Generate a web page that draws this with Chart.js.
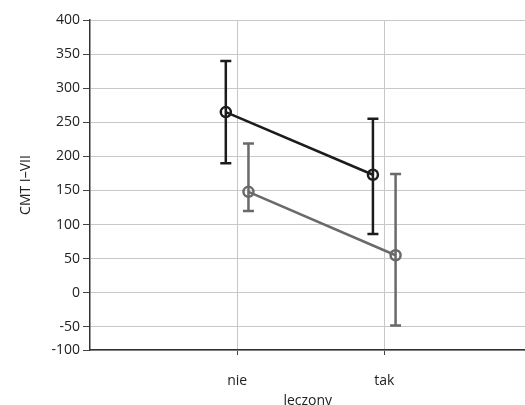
<!DOCTYPE html>
<html>
<head>
<meta charset="utf-8">
<style>
html,body{margin:0;padding:0;background:#fff;overflow:hidden;}
canvas{display:block;}
</style>
<script src="https://cdn.jsdelivr.net/npm/chart.js@4"></script>
</head>
<body>
<canvas id="c" width="533" height="405"></canvas>
<script>
const categories = ['nie', 'tak'];
const meanA = [265, 173];
const lowA = [190, 86];
const highA = [340, 255];
const meanB = [148, 55];
const lowB = [120, -48];
const highB = [219, 174];
const yTickLabels = ['-100', '-50', '0', '50', '100', '150', '200', '250', '300', '350', '400'];
const yTickValues = [-84, -50, 0, 50, 100, 150, 200, 250, 300, 350, 400];

const OFFSET = 0.077;
const colA = '#1c1c1c';
const colB = '#6a6a6a';

function pts(means, lows, highs, shift) {
  return means.map((m, i) => ({ x: i + 1 + shift, y: m, lo: lows[i], hi: highs[i] }));
}

const errorBars = {
  id: 'errorBars',
  afterDatasetsDraw(chart) {
    const ctx = chart.ctx;
    const xs = chart.scales.x, ys = chart.scales.y;
    chart.data.datasets.forEach(ds => {
      ctx.save();
      ctx.strokeStyle = ds.borderColor;
      ctx.lineWidth = 2.5;
      ds.data.forEach(p => {
        const x = xs.getPixelForValue(p.x);
        const y1 = ys.getPixelForValue(p.lo);
        const y2 = ys.getPixelForValue(p.hi);
        ctx.beginPath();
        ctx.moveTo(x, y1); ctx.lineTo(x, y2);
        ctx.moveTo(x - 5.5, y1); ctx.lineTo(x + 5.5, y1);
        ctx.moveTo(x - 5.5, y2); ctx.lineTo(x + 5.5, y2);
        ctx.stroke();
      });
      ctx.restore();
    });
  }
};

const font = { family: '"Open Sans", "Noto Sans", sans-serif', size: 14 };

new Chart(document.getElementById('c'), {
  type: 'scatter',
  data: {
    datasets: [
      {
        label: 'A',
        data: pts(meanA, lowA, highA, -OFFSET),
        showLine: true,
        borderColor: colA,
        borderWidth: 2.5,
        pointRadius: 5,
        pointBorderWidth: 2.5,
        pointBackgroundColor: 'rgba(0,0,0,0)',
        pointBorderColor: colA
      },
      {
        label: 'B',
        data: pts(meanB, lowB, highB, OFFSET),
        showLine: true,
        borderColor: colB,
        borderWidth: 2.5,
        pointRadius: 5,
        pointBorderWidth: 2.5,
        pointBackgroundColor: 'rgba(0,0,0,0)',
        pointBorderColor: colB
      }
    ]
  },
  options: {
    responsive: false,
    animation: false,
    layout: { padding: { top: 20, right: 0, left: 0, bottom: 0 } },
    plugins: { legend: { display: false }, tooltip: { enabled: false } },
    scales: {
      x: {
        type: 'linear',
        min: 0,
        max: 2.96,
        afterBuildTicks: s => { s.ticks = categories.map((c, i) => ({ value: i + 1 })); },
        afterFit: s => { s.height = 55; },
        ticks: {
          callback: (v, i) => categories[i],
          color: '#222',
          font: font,
          padding: 18,
          maxRotation: 0
        },
        grid: { color: '#c8c8c8', lineWidth: 1, tickLength: 5, tickColor: '#444' },
        border: { color: '#333', width: 1.5 },
        title: { display: true, text: 'leczony', color: '#222', font: font, padding: { top: 0, bottom: -4 } }
      },
      y: {
        type: 'linear',
        min: yTickValues[0],
        max: yTickValues[yTickValues.length - 1],
        afterBuildTicks: s => { s.ticks = yTickValues.map(v => ({ value: v })); },
        afterFit: s => { s.width = 90; },
        ticks: {
          callback: (v, i) => yTickLabels[i],
          color: '#222',
          font: font,
          padding: 3
        },
        grid: { color: '#c8c8c8', lineWidth: 1, tickLength: 7, tickColor: '#444' },
        border: { color: '#333', width: 1.5 },
        title: { display: true, text: 'CMT I–VII', color: '#222', font: font, padding: { top: 18, bottom: 0 } }
      }
    }
  },
  plugins: [errorBars]
});
</script>
</body>
</html>
